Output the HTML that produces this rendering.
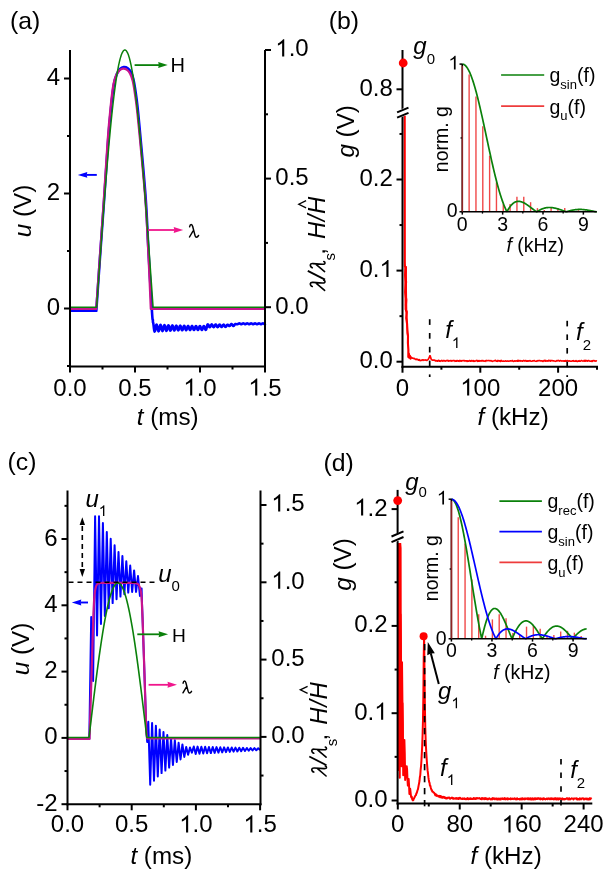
<!DOCTYPE html>
<html><head><meta charset="utf-8"><style>html,body{margin:0;padding:0;background:#fff;}svg{display:block;will-change:transform;}</style></head>
<body><svg width="613" height="877" viewBox="0 0 613 877" font-family="Liberation Sans, sans-serif">
<rect width="613" height="877" fill="#fff"/>
<text x="9.9" y="29.3" font-family="Liberation Sans" font-size="24.8" fill="#000">(a)</text>
<path d="M70,310.8 L96.3,310.8  C96.95,301.44 98.87,273.23 100.18,254.64 C101.49,236.05 102.82,218.62 104.16,199.27 C105.51,179.93 107.1,154.04 108.26,138.57 C109.43,123.1 110.21,115.64 111.17,106.46 C112.13,97.28 113.08,88.98 114.05,83.51 C115.01,78.04 115.99,76.06 116.98,73.64 C117.97,71.23 118.87,70.12 119.99,69.01 C121.11,67.9 122.4,67.13 123.7,67 C125,66.86 126.62,67.4 127.8,68.21 C128.98,69.01 129.86,70.03 130.78,71.83 C131.71,73.63 132.6,75.94 133.36,78.98 C134.12,82.01 134.64,85.47 135.32,90.05 C136.01,94.63 136.6,98.37 137.47,106.46 C138.34,114.55 139.18,123.1 140.56,138.57 C141.95,154.04 144.46,180.77 145.76,199.27 C147.07,217.78 147.36,230.82 148.4,249.61 C149.44,268.39 151.25,300.27 152,312 C152.75,323.73 152.75,318.67 152.9,320 L152.9,322 L153.24,322.91 L153.58,325.3 L153.92,328.25 L154.26,330.64 L154.6,331.55 L154.93,331.09 L155.26,329.81 L155.58,328.07 L155.91,326.33 L156.24,325.06 L156.57,324.6 L156.9,325.04 L157.23,326.26 L157.56,327.93 L157.88,329.6 L158.21,330.82 L158.54,331.27 L158.87,330.84 L159.2,329.67 L159.52,328.06 L159.85,326.46 L160.18,325.29 L160.51,324.86 L160.84,325.27 L161.17,326.4 L161.5,327.94 L161.82,329.48 L162.15,330.61 L162.48,331.02 L162.81,330.63 L163.14,329.54 L163.46,328.05 L163.79,326.57 L164.12,325.48 L164.45,325.08 L164.78,325.47 L165.11,326.52 L165.44,327.95 L165.76,329.38 L166.09,330.43 L166.42,330.82 L166.75,330.45 L167.08,329.43 L167.4,328.05 L167.73,326.66 L168.06,325.65 L168.39,325.28 L168.72,325.63 L169.05,326.62 L169.38,327.96 L169.7,329.3 L170.03,330.28 L170.36,330.64 L170.69,330.29 L171.02,329.34 L171.34,328.04 L171.67,326.74 L172,325.79 L172.33,325.44 L172.66,325.78 L172.99,326.7 L173.31,327.96 L173.64,329.23 L173.97,330.15 L174.3,330.49 L174.63,330.16 L174.96,329.26 L175.28,328.03 L175.61,326.81 L175.94,325.91 L176.27,325.58 L176.6,325.9 L176.93,326.77 L177.25,327.97 L177.58,329.16 L177.91,330.04 L178.24,330.36 L178.57,330.05 L178.9,329.19 L179.22,328.03 L179.55,326.86 L179.88,326.01 L180.21,325.7 L180.54,326 L180.87,326.84 L181.19,327.97 L181.52,329.11 L181.85,329.94 L182.18,330.25 L182.51,329.95 L182.84,329.14 L183.17,328.02 L183.49,326.91 L183.82,326.1 L184.15,325.8 L184.48,326.09 L184.81,326.89 L185.13,327.98 L185.46,329.07 L185.79,329.86 L186.12,330.15 L186.45,329.87 L186.78,329.09 L187.11,328.02 L187.43,326.95 L187.76,326.17 L188.09,325.89 L188.42,326.17 L188.75,326.93 L189.07,327.98 L189.4,329.03 L189.73,329.79 L190.06,330.07 L190.39,329.8 L190.72,329.05 L191.05,328.02 L191.37,326.99 L191.7,326.24 L192.03,325.96 L192.36,326.23 L192.69,326.97 L193.01,327.98 L193.34,328.99 L193.67,329.73 L194,330 L194.33,329.74 L194.66,329.01 L194.99,328.02 L195.31,327.02 L195.64,326.29 L195.97,326.03 L196.3,326.29 L196.63,327.01 L196.95,327.99 L197.28,328.97 L197.61,329.68 L197.94,329.94 L198.27,329.69 L198.6,328.98 L198.93,328.01 L199.25,327.05 L199.58,326.34 L199.91,326.08 L200.24,326.34 L200.57,327.03 L200.89,327.99 L201.22,328.94 L201.55,329.64 L201.88,329.89 L202.21,329.64 L202.54,328.95 L202.87,328.01 L203.19,327.07 L203.52,326.38 L203.85,326.13 L204.18,326.38 L204.51,327.06 L204.83,327.99 L205.16,328.92 L205.49,329.6 L205.82,329.85 L206.15,329.48 L206.48,328.47 L206.81,327.09 L207.13,325.71 L207.46,324.71 L207.79,324.34 L208.12,324.53 L208.45,325.06 L208.77,325.78 L209.1,326.5 L209.43,327.03 L209.76,327.22 L210.09,327.04 L210.42,326.52 L210.75,325.82 L211.07,325.12 L211.4,324.6 L211.73,324.41 L212.06,324.6 L212.39,325.1 L212.71,325.78 L213.04,326.46 L213.37,326.96 L213.7,327.15 L214.03,326.97 L214.36,326.48 L214.69,325.82 L215.01,325.16 L215.34,324.67 L215.67,324.49 L216,324.67 L216.33,325.14 L216.65,325.78 L216.98,326.42 L217.31,326.89 L217.64,327.07 L217.97,326.9 L218.3,326.44 L218.62,325.82 L218.95,325.2 L219.28,324.74 L219.61,324.57 L219.94,324.73 L220.27,325.18 L220.59,325.78 L220.92,326.38 L221.25,326.83 L221.58,326.99 L221.91,326.83 L222.24,326.4 L222.56,325.82 L222.89,325.24 L223.22,324.81 L223.55,324.65 L223.88,324.8 L224.21,325.22 L224.53,325.78 L224.86,326.34 L225.19,326.76 L225.52,326.91 L225.85,326.76 L226.18,326.36 L226.5,325.82 L226.83,325.27 L227.16,324.88 L227.49,324.73 L227.82,324.82 L228.15,325.06 L228.47,325.38 L228.8,325.71 L229.13,325.94 L229.46,326.03 L229.79,325.9 L230.12,325.53 L230.44,325.02 L230.77,324.51 L231.1,324.14 L231.43,324.01 L231.76,324.14 L232.09,324.49 L232.41,324.98 L232.74,325.47 L233.07,325.82 L233.4,325.95 L233.73,325.83 L234.06,325.49 L234.38,325.02 L234.71,324.55 L235.04,324.21 L235.37,324.09 L235.7,324.1 L236.03,324.13 L236.35,324.17 L236.68,324.21 L237.01,324.24 L237.34,324.25 L237.67,324.19 L238,324.03 L238.32,323.8 L238.65,323.58 L238.98,323.41 L239.31,323.35 L239.64,323.41 L239.97,323.57 L240.29,323.8 L240.62,324.02 L240.95,324.19 L241.28,324.25 L241.61,324.19 L241.94,324.03 L242.26,323.8 L242.59,323.58 L242.92,323.41 L243.25,323.35 L243.58,323.41 L243.91,323.57 L244.24,323.8 L244.56,324.02 L244.89,324.19 L245.22,324.25 L245.55,324.19 L245.88,324.03 L246.2,323.8 L246.53,323.58 L246.86,323.41 L247.19,323.35 L247.52,323.41 L247.85,323.57 L248.18,323.8 L248.5,324.02 L248.83,324.19 L249.16,324.25 L249.49,324.19 L249.82,324.03 L250.14,323.8 L250.47,323.58 L250.8,323.41 L251.13,323.35 L251.46,323.41 L251.79,323.57 L252.12,323.8 L252.44,324.02 L252.77,324.19 L253.1,324.25 L253.43,324.19 L253.76,324.03 L254.08,323.8 L254.41,323.58 L254.74,323.41 L255.07,323.35 L255.4,323.41 L255.73,323.57 L256.05,323.8 L256.38,324.02 L256.71,324.19 L257.04,324.25 L257.37,324.19 L257.7,324.03 L258.02,323.8 L258.35,323.58 L258.68,323.41 L259.01,323.35 L259.34,323.41 L259.67,323.57 L260,323.8 L260.32,324.02 L260.65,324.19 L260.98,324.25 L261.31,324.19 L261.64,324.03 L261.97,323.8 L262.29,323.58 L262.62,323.41 L262.95,323.35 L263.28,323.41 L263.61,323.57 L263.93,323.8 L264.26,324.02 L264.59,324.19 L264.92,324.25 L264.96,324.03 L265,323.8" fill="none" stroke="#0000ff" stroke-width="2.6" stroke-linejoin="round" />
<path d="M70,308.9 L96.2,308.9  C96.83,299.92 98.73,273.15 100,255 C101.27,236.85 102.52,219.22 103.8,200 C105.08,180.78 106.58,155.07 107.7,139.7 C108.82,124.33 109.57,116.92 110.5,107.8 C111.43,98.68 112.35,90.43 113.3,85 C114.25,79.57 115.22,77.6 116.2,75.2 C117.18,72.8 118.08,71.7 119.2,70.6 C120.32,69.5 121.6,68.73 122.9,68.6 C124.2,68.47 125.82,69 127,69.8 C128.18,70.6 129.07,71.62 130,73.4 C130.93,75.18 131.83,77.48 132.6,80.5 C133.37,83.52 133.9,86.95 134.6,91.5 C135.3,96.05 135.9,99.77 136.8,107.8 C137.7,115.83 138.57,124.33 140,139.7 C141.43,155.07 144.03,181.62 145.4,200 C146.77,218.38 147.3,231.85 148.2,250 C149.1,268.15 150.37,299.08 150.8,308.9 L265,308.9" fill="none" stroke="#c8148c" stroke-width="2.2" stroke-linejoin="round" />
<polyline points="70,307.2 96.65,307.2 96.93,303.16 97.21,299.12 97.5,295.08 97.78,291.05 98.06,287.02 98.34,283 98.62,278.98 98.91,274.96 99.19,270.96 99.47,266.97 99.75,262.98 100.04,259.01 100.32,255.04 100.6,251.09 100.88,247.16 101.16,243.24 101.45,239.33 101.73,235.44 102.01,231.57 102.29,227.72 102.57,223.89 102.86,220.08 103.14,216.29 103.42,212.52 103.7,208.77 103.98,205.05 104.27,201.36 104.55,197.69 104.83,194.05 105.11,190.43 105.4,186.85 105.68,183.29 105.96,179.77 106.24,176.27 106.52,172.81 106.81,169.39 107.09,165.99 107.37,162.63 107.65,159.31 107.93,156.02 108.22,152.77 108.5,149.56 108.78,146.39 109.06,143.25 109.34,140.16 109.63,137.11 109.91,134.1 110.19,131.13 110.47,128.21 110.75,125.33 111.04,122.5 111.32,119.71 111.6,116.97 111.88,114.27 112.17,111.62 112.45,109.02 112.73,106.47 113.01,103.97 113.29,101.52 113.58,99.12 113.86,96.77 114.14,94.47 114.42,92.23 114.7,90.04 114.99,87.9 115.27,85.82 115.55,83.79 115.83,81.81 116.11,79.9 116.4,78.03 116.68,76.23 116.96,74.48 117.24,72.79 117.53,71.15 117.81,69.58 118.09,68.06 118.37,66.6 118.65,65.21 118.94,63.87 119.22,62.59 119.5,61.37 119.78,60.21 120.06,59.12 120.35,58.08 120.63,57.11 120.91,56.19 121.19,55.34 121.47,54.56 121.76,53.83 122.04,53.17 122.32,52.57 122.6,52.03 122.89,51.55 123.17,51.14 123.45,50.79 123.73,50.51 124.01,50.29 124.3,50.13 124.58,50.03 124.86,50 125.14,50.03 125.42,50.13 125.71,50.29 125.99,50.51 126.27,50.79 126.55,51.14 126.83,51.55 127.12,52.03 127.4,52.57 127.68,53.17 127.96,53.83 128.25,54.56 128.53,55.34 128.81,56.19 129.09,57.11 129.37,58.08 129.66,59.12 129.94,60.21 130.22,61.37 130.5,62.59 130.78,63.87 131.07,65.21 131.35,66.6 131.63,68.06 131.91,69.58 132.19,71.15 132.48,72.79 132.76,74.48 133.04,76.23 133.32,78.03 133.61,79.9 133.89,81.81 134.17,83.79 134.45,85.82 134.73,87.9 135.02,90.04 135.3,92.23 135.58,94.47 135.86,96.77 136.14,99.12 136.43,101.52 136.71,103.97 136.99,106.47 137.27,109.02 137.55,111.62 137.84,114.27 138.12,116.97 138.4,119.71 138.68,122.5 138.97,125.33 139.25,128.21 139.53,131.13 139.81,134.1 140.09,137.11 140.38,140.16 140.66,143.25 140.94,146.39 141.22,149.56 141.5,152.77 141.79,156.02 142.07,159.31 142.35,162.63 142.63,165.99 142.91,169.39 143.2,172.81 143.48,176.27 143.76,179.77 144.04,183.29 144.32,186.85 144.61,190.43 144.89,194.05 145.17,197.69 145.45,201.36 145.74,205.05 146.02,208.77 146.3,212.52 146.58,216.29 146.86,220.08 147.15,223.89 147.43,227.72 147.71,231.57 147.99,235.44 148.27,239.33 148.56,243.24 148.84,247.16 149.12,251.09 149.4,255.04 149.68,259.01 149.97,262.98 150.25,266.97 150.53,270.96 150.81,274.96 151.1,278.98 151.38,283 151.66,287.02 151.94,291.05 152.22,295.08 152.51,299.12 152.79,303.16 153.07,307.2 265,307.2" fill="none" stroke="#0a800a" stroke-width="1.5" stroke-linejoin="round" />
<line x1="134.6" y1="65.1" x2="159.2" y2="65.1" stroke="#0a800a" stroke-width="1.8" />
<polygon points="167.7,65.1 158.2,68.1 158.8,65.1 158.2,62.1" fill="#0a800a"/>
<text x="170.5" y="71.8" font-family="Liberation Sans" font-size="20" fill="#000">H</text>
<line x1="96.8" y1="174.9" x2="86.3" y2="174.9" stroke="#0000ff" stroke-width="1.9" />
<polygon points="77.8,174.9 87.3,172 86.7,174.9 87.3,177.8" fill="#0000ff"/>
<line x1="148" y1="230" x2="174.7" y2="230" stroke="#f0168c" stroke-width="1.8" />
<polygon points="183.2,230 173.7,233 174.3,230 173.7,227" fill="#f0168c"/>
<path d="M0.6,-10.7 Q1.0,-13.1 2.2,-13.1 Q3.2,-13.1 3.7,-11 L5.6,-3.6 Q6.3,-0.3 7.4,-0.3 Q8.7,-0.3 9.6,-2.1 M4.1,-6.6 L0.5,-0.5" transform="translate(189,237.5) scale(1.0)" fill="none" stroke="#000" stroke-width="1.45" stroke-linecap="round" stroke-linejoin="round"/>
<line x1="70" y1="50" x2="70" y2="367.5" stroke="#000" stroke-width="2.0" />
<line x1="265" y1="50" x2="265" y2="367.5" stroke="#000" stroke-width="2.0" />
<line x1="69" y1="366.5" x2="266" y2="366.5" stroke="#000" stroke-width="2.0" />
<line x1="70" y1="366.5" x2="70" y2="372.5" stroke="#000" stroke-width="2.0" />
<text x="70" y="395.6" font-family="Liberation Sans" font-size="24" text-anchor="middle" fill="#000">0.0</text>
<line x1="135" y1="366.5" x2="135" y2="372.5" stroke="#000" stroke-width="2.0" />
<text x="135" y="395.6" font-family="Liberation Sans" font-size="24" text-anchor="middle" fill="#000">0.5</text>
<line x1="200" y1="366.5" x2="200" y2="372.5" stroke="#000" stroke-width="2.0" />
<path d="M583,0 V1147 Q518,1085 412,1023 T223,930 V1104 Q381,1178 499,1283 T667,1466 H763 V0 Z" transform="translate(183.32,395.6) scale(0.01172,-0.01172)" fill="#000"/>
<text x="200" y="395.6" font-family="Liberation Sans" font-size="24" text-anchor="middle" fill="#000"> .0</text>
<line x1="265" y1="366.5" x2="265" y2="372.5" stroke="#000" stroke-width="2.0" />
<path d="M583,0 V1147 Q518,1085 412,1023 T223,930 V1104 Q381,1178 499,1283 T667,1466 H763 V0 Z" transform="translate(248.32,395.6) scale(0.01172,-0.01172)" fill="#000"/>
<text x="265" y="395.6" font-family="Liberation Sans" font-size="24" text-anchor="middle" fill="#000"> .5</text>
<line x1="102.5" y1="366.5" x2="102.5" y2="369.5" stroke="#000" stroke-width="2.0" />
<line x1="167.5" y1="366.5" x2="167.5" y2="369.5" stroke="#000" stroke-width="2.0" />
<line x1="232.5" y1="366.5" x2="232.5" y2="369.5" stroke="#000" stroke-width="2.0" />
<line x1="64" y1="308.5" x2="70" y2="308.5" stroke="#000" stroke-width="2.0" />
<text x="60.1" y="315" font-family="Liberation Sans" font-size="24" text-anchor="end" fill="#000">0</text>
<line x1="64" y1="193.5" x2="70" y2="193.5" stroke="#000" stroke-width="2.0" />
<text x="60.1" y="200" font-family="Liberation Sans" font-size="24" text-anchor="end" fill="#000">2</text>
<line x1="64" y1="78.5" x2="70" y2="78.5" stroke="#000" stroke-width="2.0" />
<text x="60.1" y="85" font-family="Liberation Sans" font-size="24" text-anchor="end" fill="#000">4</text>
<line x1="67" y1="366" x2="70" y2="366" stroke="#000" stroke-width="2.0" />
<line x1="67" y1="251" x2="70" y2="251" stroke="#000" stroke-width="2.0" />
<line x1="67" y1="136" x2="70" y2="136" stroke="#000" stroke-width="2.0" />
<line x1="265" y1="307.2" x2="271" y2="307.2" stroke="#000" stroke-width="2.0" />
<text x="275.3" y="313.6" font-family="Liberation Sans" font-size="24" fill="#000">0.0</text>
<line x1="265" y1="178.6" x2="271" y2="178.6" stroke="#000" stroke-width="2.0" />
<text x="275.3" y="185" font-family="Liberation Sans" font-size="24" fill="#000">0.5</text>
<line x1="265" y1="50" x2="271" y2="50" stroke="#000" stroke-width="2.0" />
<path d="M583,0 V1147 Q518,1085 412,1023 T223,930 V1104 Q381,1178 499,1283 T667,1466 H763 V0 Z" transform="translate(275.3,56.4) scale(0.01172,-0.01172)" fill="#000"/>
<text x="275.3" y="56.4" font-family="Liberation Sans" font-size="24" fill="#000"> .0</text>
<line x1="265" y1="242.9" x2="268" y2="242.9" stroke="#000" stroke-width="2.0" />
<line x1="265" y1="114.3" x2="268" y2="114.3" stroke="#000" stroke-width="2.0" />
<text x="136.8" y="424.6" font-family="Liberation Sans" font-size="24.2"><tspan font-style="italic">t</tspan> (ms)</text>
<text transform="translate(30.8,237.2) rotate(-90)" font-family="Liberation Sans" font-size="24.2"><tspan font-style="italic">u</tspan> (V)</text>
<g transform="translate(325,291) rotate(-90)"><path d="M4.5,-12.7 Q5.2,-14.8 7.4,-14.7 Q8.8,-14.4 8.6,-12 L8.0,-2.5 Q7.9,0 9.2,0 Q10.3,0 10.7,-1.2 M7.9,-9 L0.6,-0.4" transform="translate(0.0,0)" fill="none" stroke="#000" stroke-width="1.6" stroke-linecap="round" stroke-linejoin="round"/><path d="M4.5,-12.7 Q5.2,-14.8 7.4,-14.7 Q8.8,-14.4 8.6,-12 L8.0,-2.5 Q7.9,0 9.2,0 Q10.3,0 10.7,-1.2 M7.9,-9 L0.6,-0.4" transform="translate(18.8,0)" fill="none" stroke="#000" stroke-width="1.6" stroke-linecap="round" stroke-linejoin="round"/><line x1="11.4" y1="0" x2="20.1" y2="-17.2" stroke="#000" stroke-width="1.8"/><text x="30.4" y="10" font-family="Liberation Sans" font-size="15">s</text><text x="36.2" y="0" font-family="Liberation Sans" font-size="24">,</text><text x="51.9" y="0" font-family="Liberation Sans" font-size="24" font-style="italic" letter-spacing="0.6">H/H</text><polyline points="83.2,-18.9 86.75,-26.2 90.3,-18.9" fill="none" stroke="#000" stroke-width="1.3"/></g>
<text x="7.5" y="470.2" font-family="Liberation Sans" font-size="24.8" fill="#000">(c)</text>
<polyline points="67.5,739 89.3,739 91.2,617 93.1,681 95.1,516.2 97.05,635.5 99,516.2 100.95,624 102.9,523 104.85,616.1 106.8,531.9 108.75,608.3 110.7,538.7 112.65,603.1 114.6,545.2 116.55,599.2 118.5,552 120.45,596.6 122.4,556 124.35,594.2 126.3,561.2 128.25,592.6 130.2,565.6 132.15,592 134.1,570.4 136.05,592 138,576 139.95,595.9 141.6,588.5 141.9,600 142.7,622 144,660 145.3,700 146.3,730 147.2,742 148.3,721.8 150.2,784.7 152.09,723.1 153.99,780.8 155.88,725.7 157.78,776.5 159.67,729.5 161.57,773.1 163.46,732.1 165.36,770.6 167.25,735.1 169.15,767.6 171.04,738.5 172.94,765 174.83,740.2 176.73,762 178.62,742.8 180.52,759.4 182.41,744.5 184.31,756.9 186.2,747 188.1,754.7 189.99,747.5 191.89,752.6 193.78,746.52 195.68,754.05 197.57,746.62 199.47,753.81 201.36,746.72 203.26,753.58 205.15,746.83 207.05,753.34 208.94,746.93 210.84,753.1 212.73,747.03 214.63,752.86 216.52,747.13 218.42,752.63 220.31,747.23 222.21,752.39 224.1,747.34 226,752.15 227.89,747.44 229.79,751.91 231.68,747.54 233.58,751.68 235.47,747.64 237.37,751.44 239.26,747.74 241.16,751.2 243.05,747.84 244.95,750.96 246.84,747.95 248.74,750.72 250.63,748.05 252.53,750.49 254.42,748.15 256.32,750.25 258.21,748.25 260.11,750.01" fill="none" stroke="#0000ff" stroke-width="2.0" stroke-linejoin="round" />
<path d="M67.5,739 L89.5,739  C89.68,733.33 90.18,718.17 90.6,705 C91.02,691.83 91.53,675 92,660 C92.47,645 92.98,625.83 93.4,615 C93.82,604.17 94.07,599.75 94.5,595 C94.93,590.25 95.42,588.4 96,586.5 C96.58,584.6 97.25,584.18 98,583.6 C98.75,583.02 99.5,583.12 100.5,583 C101.5,582.88 103.42,582.92 104,582.9 L134,582.9  C134.42,582.98 135.7,583.05 136.5,583.4 C137.3,583.75 138.12,583.9 138.8,585 C139.48,586.1 140.13,587.83 140.6,590 C141.07,592.17 141.27,593 141.6,598 C141.93,603 142.2,609.67 142.6,620 C143,630.33 143.55,646.67 144,660 C144.45,673.33 144.92,688.33 145.3,700 C145.68,711.67 145.98,723.58 146.3,730 C146.62,736.42 147.05,737.08 147.2,738.5 L260.5,738.5" fill="none" stroke="#c8148c" stroke-width="2.2" stroke-linejoin="round" />
<polyline points="67.5,737.5 89.01,737.5 89.3,735.07 89.59,732.64 89.87,730.22 90.16,727.79 90.45,725.37 90.74,722.95 91.03,720.54 91.32,718.12 91.61,715.72 91.9,713.32 92.19,710.92 92.48,708.53 92.77,706.15 93.06,703.78 93.35,701.41 93.63,699.05 93.92,696.71 94.21,694.37 94.5,692.04 94.79,689.73 95.08,687.42 95.37,685.13 95.66,682.85 95.95,680.59 96.24,678.34 96.53,676.1 96.82,673.88 97.11,671.67 97.39,669.49 97.68,667.31 97.97,665.16 98.26,663.02 98.55,660.9 98.84,658.8 99.13,656.72 99.42,654.66 99.71,652.62 100,650.6 100.29,648.6 100.58,646.63 100.87,644.68 101.15,642.74 101.44,640.84 101.73,638.95 102.02,637.1 102.31,635.26 102.6,633.45 102.89,631.67 103.18,629.91 103.47,628.18 103.76,626.48 104.05,624.8 104.34,623.15 104.62,621.53 104.91,619.94 105.2,618.38 105.49,616.85 105.78,615.34 106.07,613.87 106.36,612.43 106.65,611.01 106.94,609.63 107.23,608.28 107.52,606.97 107.81,605.68 108.1,604.43 108.38,603.21 108.67,602.02 108.96,600.87 109.25,599.75 109.54,598.66 109.83,597.61 110.12,596.6 110.41,595.62 110.7,594.67 110.99,593.76 111.28,592.88 111.57,592.04 111.86,591.24 112.14,590.47 112.43,589.73 112.72,589.04 113.01,588.38 113.3,587.76 113.59,587.17 113.88,586.62 114.17,586.11 114.46,585.64 114.75,585.2 115.04,584.8 115.33,584.44 115.62,584.12 115.9,583.83 116.19,583.59 116.48,583.38 116.77,583.21 117.06,583.07 117.35,582.98 117.64,582.92 117.93,582.9 118.22,582.92 118.51,582.98 118.8,583.07 119.09,583.21 119.38,583.38 119.66,583.59 119.95,583.83 120.24,584.12 120.53,584.44 120.82,584.8 121.11,585.2 121.4,585.64 121.69,586.11 121.98,586.62 122.27,587.17 122.56,587.76 122.85,588.38 123.14,589.04 123.42,589.73 123.71,590.47 124,591.24 124.29,592.04 124.58,592.88 124.87,593.76 125.16,594.67 125.45,595.62 125.74,596.6 126.03,597.61 126.32,598.66 126.61,599.75 126.89,600.87 127.18,602.02 127.47,603.21 127.76,604.43 128.05,605.68 128.34,606.97 128.63,608.28 128.92,609.63 129.21,611.01 129.5,612.43 129.79,613.87 130.08,615.34 130.37,616.85 130.65,618.38 130.94,619.94 131.23,621.53 131.52,623.15 131.81,624.8 132.1,626.48 132.39,628.18 132.68,629.91 132.97,631.67 133.26,633.45 133.55,635.26 133.84,637.1 134.13,638.95 134.41,640.84 134.7,642.74 134.99,644.68 135.28,646.63 135.57,648.6 135.86,650.6 136.15,652.62 136.44,654.66 136.73,656.72 137.02,658.8 137.31,660.9 137.6,663.02 137.89,665.16 138.17,667.31 138.46,669.49 138.75,671.67 139.04,673.88 139.33,676.1 139.62,678.34 139.91,680.59 140.2,682.85 140.49,685.13 140.78,687.42 141.07,689.73 141.36,692.04 141.65,694.37 141.93,696.71 142.22,699.05 142.51,701.41 142.8,703.78 143.09,706.15 143.38,708.53 143.67,710.92 143.96,713.32 144.25,715.72 144.54,718.12 144.83,720.54 145.12,722.95 145.41,725.37 145.69,727.79 145.98,730.22 146.27,732.64 146.56,735.07 146.85,737.5 260.1,737.5" fill="none" stroke="#0a800a" stroke-width="1.6" stroke-linejoin="round" />
<line x1="68.5" y1="582.2" x2="156" y2="582.2" stroke="#000" stroke-width="1.6" stroke-dasharray="5,4"/>
<line x1="82.3" y1="526" x2="82.3" y2="569" stroke="#000" stroke-width="1.6" stroke-dasharray="5,4"/>
<polygon points="82.3,517.2 79.6,525 85,525" fill="#000"/>
<polygon points="82.3,576.9 79.6,569 85,569" fill="#000"/>
<path d="M583,0 V1147 Q518,1085 412,1023 T223,930 V1104 Q381,1178 499,1283 T667,1466 H763 V0 Z" transform="translate(98.75,515.9) scale(0.00732,-0.00732)" fill="#000"/>
<text x="85.4" y="506.5" font-family="Liberation Sans" font-size="24"><tspan font-style="italic">u</tspan><tspan font-size="15" dy="9.4"> </tspan></text>
<text x="158.2" y="581.8" font-family="Liberation Sans" font-size="24"><tspan font-style="italic">u</tspan><tspan font-size="15" dy="9.4">0</tspan></text>
<line x1="137.3" y1="634.3" x2="159.6" y2="634.3" stroke="#0a800a" stroke-width="1.8" />
<polygon points="168.1,634.3 158.6,637.3 159.2,634.3 158.6,631.3" fill="#0a800a"/>
<text x="172" y="641.7" font-family="Liberation Sans" font-size="19.2" fill="#000">H</text>
<line x1="88" y1="602.5" x2="80.3" y2="602.5" stroke="#0000ff" stroke-width="1.9" />
<polygon points="71.8,602.5 81.3,599.6 80.7,602.5 81.3,605.4" fill="#0000ff"/>
<line x1="148.6" y1="684.8" x2="168.5" y2="684.8" stroke="#f0168c" stroke-width="1.8" />
<polygon points="177,684.8 167.5,687.8 168.1,684.8 167.5,681.8" fill="#f0168c"/>
<path d="M0.6,-10.7 Q1.0,-13.1 2.2,-13.1 Q3.2,-13.1 3.7,-11 L5.6,-3.6 Q6.3,-0.3 7.4,-0.3 Q8.7,-0.3 9.6,-2.1 M4.1,-6.6 L0.5,-0.5" transform="translate(182.5,693.3) scale(0.94)" fill="none" stroke="#000" stroke-width="1.54" stroke-linecap="round" stroke-linejoin="round"/>
<line x1="67.5" y1="490.5" x2="67.5" y2="805.3" stroke="#000" stroke-width="2.0" />
<line x1="260.5" y1="490.5" x2="260.5" y2="805.3" stroke="#000" stroke-width="2.0" />
<line x1="66.5" y1="804.3" x2="261.5" y2="804.3" stroke="#000" stroke-width="2.0" />
<line x1="67.5" y1="804.3" x2="67.5" y2="810.3" stroke="#000" stroke-width="2.0" />
<text x="67.5" y="832.4" font-family="Liberation Sans" font-size="24" text-anchor="middle" fill="#000">0.0</text>
<line x1="131.7" y1="804.3" x2="131.7" y2="810.3" stroke="#000" stroke-width="2.0" />
<text x="131.7" y="832.4" font-family="Liberation Sans" font-size="24" text-anchor="middle" fill="#000">0.5</text>
<line x1="195.9" y1="804.3" x2="195.9" y2="810.3" stroke="#000" stroke-width="2.0" />
<path d="M583,0 V1147 Q518,1085 412,1023 T223,930 V1104 Q381,1178 499,1283 T667,1466 H763 V0 Z" transform="translate(179.22,832.4) scale(0.01172,-0.01172)" fill="#000"/>
<text x="195.9" y="832.4" font-family="Liberation Sans" font-size="24" text-anchor="middle" fill="#000"> .0</text>
<line x1="260.1" y1="804.3" x2="260.1" y2="810.3" stroke="#000" stroke-width="2.0" />
<path d="M583,0 V1147 Q518,1085 412,1023 T223,930 V1104 Q381,1178 499,1283 T667,1466 H763 V0 Z" transform="translate(243.42,832.4) scale(0.01172,-0.01172)" fill="#000"/>
<text x="260.1" y="832.4" font-family="Liberation Sans" font-size="24" text-anchor="middle" fill="#000"> .5</text>
<line x1="99.6" y1="804.3" x2="99.6" y2="807.3" stroke="#000" stroke-width="2.0" />
<line x1="163.8" y1="804.3" x2="163.8" y2="807.3" stroke="#000" stroke-width="2.0" />
<line x1="228" y1="804.3" x2="228" y2="807.3" stroke="#000" stroke-width="2.0" />
<line x1="61.5" y1="804.2" x2="67.5" y2="804.2" stroke="#000" stroke-width="2.0" />
<text x="57.7" y="810.7" font-family="Liberation Sans" font-size="24" text-anchor="end" fill="#000">-2</text>
<line x1="61.5" y1="737.9" x2="67.5" y2="737.9" stroke="#000" stroke-width="2.0" />
<text x="57.7" y="744.4" font-family="Liberation Sans" font-size="24" text-anchor="end" fill="#000">0</text>
<line x1="61.5" y1="671.6" x2="67.5" y2="671.6" stroke="#000" stroke-width="2.0" />
<text x="57.7" y="678.1" font-family="Liberation Sans" font-size="24" text-anchor="end" fill="#000">2</text>
<line x1="61.5" y1="605.3" x2="67.5" y2="605.3" stroke="#000" stroke-width="2.0" />
<text x="57.7" y="611.8" font-family="Liberation Sans" font-size="24" text-anchor="end" fill="#000">4</text>
<line x1="61.5" y1="539" x2="67.5" y2="539" stroke="#000" stroke-width="2.0" />
<text x="57.7" y="545.5" font-family="Liberation Sans" font-size="24" text-anchor="end" fill="#000">6</text>
<line x1="64.5" y1="771.05" x2="67.5" y2="771.05" stroke="#000" stroke-width="2.0" />
<line x1="64.5" y1="704.75" x2="67.5" y2="704.75" stroke="#000" stroke-width="2.0" />
<line x1="64.5" y1="638.45" x2="67.5" y2="638.45" stroke="#000" stroke-width="2.0" />
<line x1="64.5" y1="572.15" x2="67.5" y2="572.15" stroke="#000" stroke-width="2.0" />
<line x1="64.5" y1="505.85" x2="67.5" y2="505.85" stroke="#000" stroke-width="2.0" />
<line x1="260.5" y1="736.9" x2="266.5" y2="736.9" stroke="#000" stroke-width="2.0" />
<text x="271.3" y="743.3" font-family="Liberation Sans" font-size="24" fill="#000">0.0</text>
<line x1="260.5" y1="659.6" x2="266.5" y2="659.6" stroke="#000" stroke-width="2.0" />
<text x="271.3" y="666" font-family="Liberation Sans" font-size="24" fill="#000">0.5</text>
<line x1="260.5" y1="582.3" x2="266.5" y2="582.3" stroke="#000" stroke-width="2.0" />
<path d="M583,0 V1147 Q518,1085 412,1023 T223,930 V1104 Q381,1178 499,1283 T667,1466 H763 V0 Z" transform="translate(271.3,588.7) scale(0.01172,-0.01172)" fill="#000"/>
<text x="271.3" y="588.7" font-family="Liberation Sans" font-size="24" fill="#000"> .0</text>
<line x1="260.5" y1="505" x2="266.5" y2="505" stroke="#000" stroke-width="2.0" />
<path d="M583,0 V1147 Q518,1085 412,1023 T223,930 V1104 Q381,1178 499,1283 T667,1466 H763 V0 Z" transform="translate(271.3,511.4) scale(0.01172,-0.01172)" fill="#000"/>
<text x="271.3" y="511.4" font-family="Liberation Sans" font-size="24" fill="#000"> .5</text>
<line x1="260.5" y1="775.55" x2="263.5" y2="775.55" stroke="#000" stroke-width="2.0" />
<line x1="260.5" y1="698.25" x2="263.5" y2="698.25" stroke="#000" stroke-width="2.0" />
<line x1="260.5" y1="620.95" x2="263.5" y2="620.95" stroke="#000" stroke-width="2.0" />
<line x1="260.5" y1="543.65" x2="263.5" y2="543.65" stroke="#000" stroke-width="2.0" />
<text x="130.4" y="864.3" font-family="Liberation Sans" font-size="24.2"><tspan font-style="italic">t</tspan> (ms)</text>
<text transform="translate(28.6,675.2) rotate(-90)" font-family="Liberation Sans" font-size="24.2"><tspan font-style="italic">u</tspan> (V)</text>
<g transform="translate(326.5,776.6) rotate(-90)"><path d="M4.5,-12.7 Q5.2,-14.8 7.4,-14.7 Q8.8,-14.4 8.6,-12 L8.0,-2.5 Q7.9,0 9.2,0 Q10.3,0 10.7,-1.2 M7.9,-9 L0.6,-0.4" transform="translate(0.0,0)" fill="none" stroke="#000" stroke-width="1.6" stroke-linecap="round" stroke-linejoin="round"/><path d="M4.5,-12.7 Q5.2,-14.8 7.4,-14.7 Q8.8,-14.4 8.6,-12 L8.0,-2.5 Q7.9,0 9.2,0 Q10.3,0 10.7,-1.2 M7.9,-9 L0.6,-0.4" transform="translate(18.8,0)" fill="none" stroke="#000" stroke-width="1.6" stroke-linecap="round" stroke-linejoin="round"/><line x1="11.4" y1="0" x2="20.1" y2="-17.2" stroke="#000" stroke-width="1.8"/><text x="30.4" y="10" font-family="Liberation Sans" font-size="15">s</text><text x="36.2" y="0" font-family="Liberation Sans" font-size="24">,</text><text x="51.9" y="0" font-family="Liberation Sans" font-size="24" font-style="italic" letter-spacing="0.6">H/H</text><polyline points="83.2,-18.9 86.75,-26.2 90.3,-18.9" fill="none" stroke="#000" stroke-width="1.3"/></g>
<text x="328.8" y="29.4" font-family="Liberation Sans" font-size="24.8" fill="#000">(b)</text>
<polyline points="404.7,115.5 404.75,200 404.8,262 404.9,266.5 405.9,267.2 405.1,275 406.1,282 405.2,292 406.3,300 405.6,309 406.8,312 406.2,318 407.1,324 407.4,333 408,336 407.9,343 408.4,350 408.3,357 408.9,353.5 409.3,357.8 409.9,355.8 410.5,358.6 411,357.08" fill="none" stroke="#ff0000" stroke-width="2.1" stroke-linejoin="round" />
<polyline points="410.5,358.6 411,357.08 411.55,357.43 412.1,358.13 412.65,357.97 413.2,358.28 413.75,358.61 414.3,358.43 414.85,358.96 415.4,359.26 415.95,359.58 416.5,359.03 417.05,359.37 417.6,359.28 418.15,360.11 418.7,360.09 419.25,359.52 419.8,360.54 420.35,360.59 420.9,360.33 421.45,360.35 422,359.93 422.55,359.82 423.1,360.36 423.65,359.91 424.2,360.05 424.75,360.1 425.3,359.87 425.85,360.26 426.4,360.16 426.95,360.43 427.5,359.88 428.05,359.6 428.6,358.74 429.15,357.63 429.7,355.89 430.25,355.77 430.8,358.07 431.35,359.34 431.9,359.91 432.45,360.19 433,360.05 433.55,360.12 434.1,360.28 434.65,360.14 435.2,360.89 435.75,360.56 436.3,361.04 436.85,360.61 437.4,361.2 437.95,361.11 438.5,360.27 439.05,360.5 439.6,361.21 440.15,360.77 440.7,361.29 441.25,360.72 441.8,360.4 442.35,360.96 442.9,361.11 443.45,360.61 444,360.43 444.55,360.68 445.1,361.31 445.65,361.11 446.2,360.47 446.75,360.6 447.3,360.46 447.85,360.42 448.4,361.16 448.95,360.54 449.5,360.92 450.05,360.81 450.6,360.55 451.15,361.1 451.7,360.5 452.25,361.01 452.8,360.48 453.35,360.79 453.9,360.58 454.45,360.64 455,361.34 455.55,361.17 456.1,360.67 456.65,361.26 457.2,360.58 457.75,360.77 458.3,361.23 458.85,361.01 459.4,360.47 459.95,361.36 460.5,360.59 461.05,360.63 461.6,361.15 462.15,360.7 462.7,360.67 463.25,360.45 463.8,360.46 464.35,360.96 464.9,360.62 465.45,360.98 466,360.75 466.55,360.83 467.1,361.33 467.65,360.86 468.2,360.95 468.75,361.24 469.3,360.56 469.85,360.53 470.4,361.28 470.95,361.19 471.5,360.63 472.05,360.57 472.6,361.12 473.15,361.32 473.7,360.57 474.25,361.33 474.8,361.26 475.35,360.98 475.9,360.8 476.45,360.48 477,360.42 477.55,361.34 478.1,360.62 478.65,361.08 479.2,360.63 479.75,361.2 480.3,360.97 480.85,360.67 481.4,360.55 481.95,361.1 482.5,360.45 483.05,360.61 483.6,360.94 484.15,361.23 484.7,360.99 485.25,360.66 485.8,361.3 486.35,360.58 486.9,360.39 487.45,360.65 488,360.82 488.55,360.44 489.1,360.55 489.65,360.75 490.2,360.95 490.75,360.51 491.3,360.74 491.85,361.27 492.4,361.36 492.95,361.04 493.5,361.07 494.05,360.96 494.6,360.52 495.15,360.41 495.7,360.4 496.25,361.29 496.8,361.08 497.35,361.34 497.9,360.4 498.45,361.01 499,360.86 499.55,361.11 500.1,360.7 500.65,361.38 501.2,360.45 501.75,360.93 502.3,361.12 502.85,361.28 503.4,361.12 503.95,361.08 504.5,361.17 505.05,361.29 505.6,360.73 506.15,361.06 506.7,361.28 507.25,361.25 507.8,360.8 508.35,361.17 508.9,361.24 509.45,360.95 510,361 510.55,360.76 511.1,360.96 511.65,360.99 512.2,360.46 512.75,361.02 513.3,361.37 513.85,361.26 514.4,361.11 514.95,360.77 515.5,361.11 516.05,360.96 516.6,360.82 517.15,361.22 517.7,360.46 518.25,361.13 518.8,360.41 519.35,360.98 519.9,360.86 520.45,360.61 521,361.08 521.55,360.88 522.1,360.99 522.65,361.3 523.2,360.64 523.75,360.39 524.3,360.68 524.85,361.06 525.4,360.58 525.95,360.55 526.5,361.29 527.05,361.04 527.6,360.82 528.15,361.27 528.7,360.71 529.25,361.05 529.8,360.58 530.35,360.81 530.9,361.19 531.45,361.29 532,361.26 532.55,360.76 533.1,360.96 533.65,360.7 534.2,360.52 534.75,360.88 535.3,361.22 535.85,361.23 536.4,361.09 536.95,361.33 537.5,360.66 538.05,360.55 538.6,360.83 539.15,360.65 539.7,360.59 540.25,360.79 540.8,361.01 541.35,360.87 541.9,360.69 542.45,361.22 543,361.36 543.55,360.83 544.1,360.45 544.65,360.41 545.2,361.25 545.75,360.42 546.3,361.09 546.85,360.95 547.4,360.69 547.95,361.17 548.5,360.4 549.05,360.52 549.6,360.83 550.15,360.4 550.7,361.21 551.25,360.62 551.8,360.52 552.35,360.43 552.9,361.01 553.45,360.83 554,361.01 554.55,361.03 555.1,361.19 555.65,361.34 556.2,361.06 556.75,360.58 557.3,360.85 557.85,360.56 558.4,360.39 558.95,360.85 559.5,361.09 560.05,360.56 560.6,360.65 561.15,360.73 561.7,361.08 562.25,360.9 562.8,360.99 563.35,361.14 563.9,360.77 564.45,361.17 565,361.29 565.55,360.47 566.1,361.31 566.65,361.1 567.2,360.51 567.75,360.83 568.3,361.01 568.85,361.29 569.4,360.76 569.95,360.95 570.5,361.26 571.05,361.18 571.6,361.32 572.15,360.84 572.7,361.03 573.25,360.58 573.8,361.1 574.35,361.2 574.9,361.02 575.45,361.1 576,360.59 576.55,361.28 577.1,361.36 577.65,361.36 578.2,360.92 578.75,361.17 579.3,360.7 579.85,361.29 580.4,361.24 580.95,360.73 581.5,360.46 582.05,360.82 582.6,360.93 583.15,361.15 583.7,360.87 584.25,360.41 584.8,361.19 585.35,360.44 585.9,361.18 586.45,360.55 587,360.71 587.55,361.17 588.1,360.52 588.65,360.53 589.2,360.9 589.75,361.1 590.3,361.22 590.85,361.07 591.4,361.33 591.95,360.87 592.5,361.33 593.05,360.47 593.6,360.6 594.15,360.91 594.7,360.67 595.25,361.11 595.8,361.02 596.35,360.9 596.9,361.22" fill="none" stroke="#ff0000" stroke-width="1.6" stroke-linejoin="round" />
<polygon points="404.3,262 405.6,265.5 406.9,267 407,290 407.3,311 408.2,330 408.9,336 409,356 408,357 407.6,338 406.9,331 405.6,313 404.6,305 404.3,280" fill="#ff0000"/>
<line x1="402.5" y1="50" x2="402.5" y2="109.5" stroke="#000" stroke-width="2.0" />
<line x1="402.5" y1="115.8" x2="402.5" y2="367.7" stroke="#000" stroke-width="2.0" />
<line x1="401.5" y1="366.7" x2="598" y2="366.7" stroke="#000" stroke-width="2.0" />
<polygon points="396,111.5 410,105.6 410,113.6 396,119.5" fill="#fff"/>
<line x1="397.1" y1="112.4" x2="408.5" y2="107.6" stroke="#000" stroke-width="2.0" />
<line x1="397.1" y1="117.7" x2="408.5" y2="112.9" stroke="#000" stroke-width="2.0" />
<line x1="396.5" y1="361.7" x2="402.5" y2="361.7" stroke="#000" stroke-width="2.0" />
<text x="392.9" y="368.2" font-family="Liberation Sans" font-size="24" text-anchor="end" fill="#000">0.0</text>
<line x1="396.5" y1="270.6" x2="402.5" y2="270.6" stroke="#000" stroke-width="2.0" />
<path d="M583,0 V1147 Q518,1085 412,1023 T223,930 V1104 Q381,1178 499,1283 T667,1466 H763 V0 Z" transform="translate(379.55,277.1) scale(0.01172,-0.01172)" fill="#000"/>
<text x="392.9" y="277.1" font-family="Liberation Sans" font-size="24" text-anchor="end" fill="#000">0. </text>
<line x1="396.5" y1="179.5" x2="402.5" y2="179.5" stroke="#000" stroke-width="2.0" />
<text x="392.9" y="186" font-family="Liberation Sans" font-size="24" text-anchor="end" fill="#000">0.2</text>
<line x1="396.5" y1="89.3" x2="402.5" y2="89.3" stroke="#000" stroke-width="2.0" />
<text x="392.9" y="95.8" font-family="Liberation Sans" font-size="24" text-anchor="end" fill="#000">0.8</text>
<line x1="399.5" y1="316.15" x2="402.5" y2="316.15" stroke="#000" stroke-width="2.0" />
<line x1="399.5" y1="225.05" x2="402.5" y2="225.05" stroke="#000" stroke-width="2.0" />
<line x1="399.5" y1="133.95" x2="402.5" y2="133.95" stroke="#000" stroke-width="2.0" />
<line x1="402.5" y1="366.7" x2="402.5" y2="372.7" stroke="#000" stroke-width="2.0" />
<text x="402.5" y="395.6" font-family="Liberation Sans" font-size="24" text-anchor="middle" fill="#000">0</text>
<line x1="480.3" y1="366.7" x2="480.3" y2="372.7" stroke="#000" stroke-width="2.0" />
<path d="M583,0 V1147 Q518,1085 412,1023 T223,930 V1104 Q381,1178 499,1283 T667,1466 H763 V0 Z" transform="translate(460.28,395.6) scale(0.01172,-0.01172)" fill="#000"/>
<text x="480.3" y="395.6" font-family="Liberation Sans" font-size="24" text-anchor="middle" fill="#000"> 00</text>
<line x1="558.1" y1="366.7" x2="558.1" y2="372.7" stroke="#000" stroke-width="2.0" />
<text x="558.1" y="395.6" font-family="Liberation Sans" font-size="24" text-anchor="middle" fill="#000">200</text>
<line x1="441.4" y1="366.7" x2="441.4" y2="369.7" stroke="#000" stroke-width="2.0" />
<line x1="519.2" y1="366.7" x2="519.2" y2="369.7" stroke="#000" stroke-width="2.0" />
<line x1="597" y1="366.7" x2="597" y2="369.7" stroke="#000" stroke-width="2.0" />
<circle cx="403.2" cy="63" r="4.4" fill="#ff0000"/>
<text x="413.3" y="54.3" font-family="Liberation Sans" font-size="24"><tspan font-style="italic">g</tspan><tspan font-size="15" dy="9.3">0</tspan></text>
<line x1="429.7" y1="319.2" x2="429.7" y2="324.9" stroke="#000" stroke-width="1.7" />
<line x1="429.7" y1="333" x2="429.7" y2="338.7" stroke="#000" stroke-width="1.7" />
<line x1="429.7" y1="346.8" x2="429.7" y2="352.5" stroke="#000" stroke-width="1.7" />
<line x1="429.7" y1="360.6" x2="429.7" y2="366.3" stroke="#000" stroke-width="1.7" />
<line x1="429.7" y1="374.4" x2="429.7" y2="377" stroke="#000" stroke-width="1.7" />
<line x1="567.2" y1="320.8" x2="567.2" y2="326.4" stroke="#000" stroke-width="1.7" />
<line x1="567.2" y1="334.4" x2="567.2" y2="340" stroke="#000" stroke-width="1.7" />
<line x1="567.2" y1="348" x2="567.2" y2="353.6" stroke="#000" stroke-width="1.7" />
<line x1="567.2" y1="361.6" x2="567.2" y2="367.2" stroke="#000" stroke-width="1.7" />
<line x1="567.2" y1="375.2" x2="567.2" y2="377" stroke="#000" stroke-width="1.7" />
<path d="M583,0 V1147 Q518,1085 412,1023 T223,930 V1104 Q381,1178 499,1283 T667,1466 H763 V0 Z" transform="translate(451.87,348) scale(0.00732,-0.00732)" fill="#000"/>
<text x="445.2" y="338.2" font-family="Liberation Sans" font-size="24"><tspan font-style="italic">f</tspan><tspan font-size="15" dy="9.8"> </tspan></text>
<text x="576.1" y="339.9" font-family="Liberation Sans" font-size="24"><tspan font-style="italic">f</tspan><tspan font-size="15" dy="9.6">2</tspan></text>
<text x="477.5" y="425.0" font-family="Liberation Sans" font-size="24.2"><tspan font-style="italic">f</tspan> (kHz)</text>
<text transform="translate(354.3,157.6) rotate(-90)" font-family="Liberation Sans" font-size="24.2"><tspan font-style="italic">g</tspan> (V)</text>
<line x1="462.3" y1="211.8" x2="462.3" y2="64.1" stroke="#f04848" stroke-width="1.4" />
<line x1="469.13" y1="211.8" x2="469.13" y2="74.59" stroke="#f04848" stroke-width="1.4" />
<line x1="475.96" y1="211.8" x2="475.96" y2="96.45" stroke="#f04848" stroke-width="1.4" />
<line x1="482.79" y1="211.8" x2="482.79" y2="126.13" stroke="#f04848" stroke-width="1.4" />
<line x1="489.62" y1="211.8" x2="489.62" y2="155.67" stroke="#f04848" stroke-width="1.4" />
<line x1="496.45" y1="211.8" x2="496.45" y2="182.41" stroke="#f04848" stroke-width="1.4" />
<line x1="503.28" y1="211.8" x2="503.28" y2="203.97" stroke="#f04848" stroke-width="1.4" />
<line x1="510.11" y1="211.8" x2="510.11" y2="204.12" stroke="#f04848" stroke-width="1.4" />
<line x1="516.94" y1="211.8" x2="516.94" y2="196.73" stroke="#f04848" stroke-width="1.4" />
<line x1="523.77" y1="211.8" x2="523.77" y2="196.73" stroke="#f04848" stroke-width="1.4" />
<line x1="530.6" y1="211.8" x2="530.6" y2="202.2" stroke="#f04848" stroke-width="1.4" />
<line x1="537.43" y1="211.8" x2="537.43" y2="208.11" stroke="#f04848" stroke-width="1.4" />
<line x1="544.26" y1="211.8" x2="544.26" y2="210.03" stroke="#f04848" stroke-width="1.4" />
<line x1="551.09" y1="211.8" x2="551.09" y2="208.11" stroke="#f04848" stroke-width="1.4" />
<line x1="557.92" y1="211.8" x2="557.92" y2="208.11" stroke="#f04848" stroke-width="1.4" />
<line x1="564.75" y1="211.8" x2="564.75" y2="208.11" stroke="#f04848" stroke-width="1.4" />
<line x1="571.58" y1="211.8" x2="571.58" y2="210.18" stroke="#f04848" stroke-width="1.4" />
<line x1="578.41" y1="211.8" x2="578.41" y2="210.18" stroke="#f04848" stroke-width="1.4" />
<line x1="585.24" y1="211.8" x2="585.24" y2="210.47" stroke="#f04848" stroke-width="1.4" />
<line x1="592.07" y1="211.8" x2="592.07" y2="210.62" stroke="#f04848" stroke-width="1.4" />
<polyline points="462.3,64.1 462.75,64.13 463.2,64.23 463.65,64.38 464.09,64.6 464.54,64.88 464.99,65.23 465.44,65.63 465.89,66.1 466.34,66.62 466.78,67.21 467.23,67.86 467.68,68.56 468.13,69.33 468.58,70.15 469.03,71.03 469.47,71.97 469.92,72.96 470.37,74 470.82,75.1 471.27,76.25 471.72,77.46 472.16,78.71 472.61,80.01 473.06,81.37 473.51,82.76 473.96,84.21 474.41,85.69 474.85,87.22 475.3,88.8 475.75,90.41 476.2,92.06 476.65,93.75 477.1,95.47 477.54,97.23 477.99,99.02 478.44,100.84 478.89,102.7 479.34,104.58 479.79,106.48 480.23,108.41 480.68,110.37 481.13,112.34 481.58,114.34 482.03,116.35 482.48,118.38 482.92,120.42 483.37,122.48 483.82,124.55 484.27,126.62 484.72,128.71 485.17,130.8 485.61,132.9 486.06,135 486.51,137.1 486.96,139.2 487.41,141.3 487.86,143.39 488.3,145.48 488.75,147.56 489.2,149.64 489.65,151.7 490.1,153.76 490.55,155.8 490.99,157.83 491.44,159.84 491.89,161.83 492.34,163.81 492.79,165.76 493.24,167.7 493.68,169.61 494.13,171.5 494.58,173.36 495.03,175.2 495.48,177.02 495.93,178.8 496.37,180.56 496.82,182.28 497.27,183.98 497.72,185.64 498.17,187.27 498.62,188.87 499.06,190.43 499.51,191.96 499.96,193.45 500.41,194.91 500.86,196.33 501.31,197.72 501.75,199.06 502.2,200.37 502.65,201.64 503.1,202.87 503.55,204.06 504,205.22 504.44,206.33 504.89,207.41 505.34,208.44 505.79,209.44 506.24,210.39 506.69,211.31 507.13,211.42 507.58,210.58 508.03,209.78 508.48,209.02 508.93,208.31 509.38,207.62 509.82,206.98 510.27,206.38 510.72,205.81 511.17,205.28 511.62,204.78 512.07,204.33 512.51,203.9 512.96,203.52 513.41,203.16 513.86,202.84 514.31,202.56 514.75,202.3 515.2,202.08 515.65,201.89 516.1,201.73 516.55,201.59 517,201.49 517.45,201.42 517.89,201.37 518.34,201.34 518.79,201.35 519.24,201.37 519.69,201.42 520.13,201.5 520.58,201.59 521.03,201.71 521.48,201.84 521.93,201.99 522.38,202.17 522.83,202.35 523.27,202.56 523.72,202.78 524.17,203.01 524.62,203.26 525.07,203.52 525.51,203.79 525.96,204.07 526.41,204.36 526.86,204.66 527.31,204.97 527.76,205.29 528.21,205.61 528.65,205.93 529.1,206.26 529.55,206.6 530,206.93 530.45,207.27 530.89,207.61 531.34,207.95 531.79,208.29 532.24,208.63 532.69,208.97 533.14,209.3 533.59,209.63 534.03,209.96 534.48,210.28 534.93,210.6 535.38,210.92 535.83,211.22 536.27,211.53 536.72,211.78 537.17,211.49 537.62,211.21 538.07,210.94 538.52,210.68 538.97,210.43 539.41,210.18 539.86,209.95 540.31,209.72 540.76,209.51 541.21,209.3 541.65,209.11 542.1,208.92 542.55,208.75 543,208.59 543.45,208.44 543.9,208.3 544.35,208.17 544.79,208.05 545.24,207.95 545.69,207.85 546.14,207.77 546.59,207.69 547.03,207.63 547.48,207.58 547.93,207.54 548.38,207.51 548.83,207.49 549.28,207.48 549.73,207.48 550.17,207.49 550.62,207.51 551.07,207.54 551.52,207.58 551.97,207.62 552.41,207.68 552.86,207.74 553.31,207.81 553.76,207.89 554.21,207.98 554.66,208.07 555.11,208.17 555.55,208.28 556,208.39 556.45,208.51 556.9,208.63 557.35,208.76 557.79,208.89 558.24,209.03 558.69,209.17 559.14,209.31 559.59,209.46 560.04,209.61 560.49,209.76 560.93,209.91 561.38,210.06 561.83,210.22 562.28,210.37 562.73,210.53 563.17,210.69 563.62,210.84 564.07,211 564.52,211.15 564.97,211.31 565.42,211.46 565.87,211.61 566.31,211.76 566.76,211.7 567.21,211.56 567.66,211.42 568.11,211.28 568.56,211.15 569,211.02 569.45,210.89 569.9,210.77 570.35,210.66 570.8,210.55 571.25,210.44 571.69,210.34 572.14,210.24 572.59,210.15 573.04,210.06 573.49,209.98 573.94,209.9 574.38,209.83 574.83,209.77 575.28,209.71 575.73,209.65 576.18,209.6 576.62,209.56 577.07,209.53 577.52,209.49 577.97,209.47 578.42,209.45 578.87,209.44 579.32,209.43 579.76,209.42 580.21,209.43 580.66,209.43 581.11,209.45 581.56,209.47 582,209.49 582.45,209.52 582.9,209.55 583.35,209.59 583.8,209.63 584.25,209.67 584.69,209.72 585.14,209.78 585.59,209.83 586.04,209.9 586.49,209.96 586.94,210.03 587.38,210.1 587.83,210.17 588.28,210.25 588.73,210.33 589.18,210.41 589.63,210.49 590.08,210.58 590.52,210.66 590.97,210.75 591.42,210.84 591.87,210.93 592.32,211.02 592.76,211.11 593.21,211.2 593.66,211.29 594.11,211.38 594.56,211.47 595.01,211.56 595.46,211.65 595.9,211.74 596.35,211.77 596.8,211.69" fill="none" stroke="#0a800a" stroke-width="1.7" stroke-linejoin="round" />
<line x1="462.3" y1="64.1" x2="462.3" y2="212.6" stroke="#000" stroke-width="1.5" />
<line x1="459.5" y1="211.8" x2="596.8" y2="211.8" stroke="#000" stroke-width="1.5" />
<line x1="459.5" y1="64.1" x2="462.3" y2="64.1" stroke="#000" stroke-width="1.5" />
<line x1="460.5" y1="137.95" x2="462.3" y2="137.95" stroke="#000" stroke-width="1.3" />
<line x1="462.5" y1="211.8" x2="462.5" y2="66.1" stroke="#c03030" stroke-width="1.2" opacity="0.75"/>
<line x1="462.3" y1="211.8" x2="462.3" y2="214.6" stroke="#000" stroke-width="1.5" />
<text x="462.3" y="231.4" font-family="Liberation Sans" font-size="19.5" text-anchor="middle" fill="#000">0</text>
<line x1="502.65" y1="211.8" x2="502.65" y2="214.6" stroke="#000" stroke-width="1.5" />
<text x="502.65" y="231.4" font-family="Liberation Sans" font-size="19.5" text-anchor="middle" fill="#000">3</text>
<line x1="543" y1="211.8" x2="543" y2="214.6" stroke="#000" stroke-width="1.5" />
<text x="543" y="231.4" font-family="Liberation Sans" font-size="19.5" text-anchor="middle" fill="#000">6</text>
<line x1="583.35" y1="211.8" x2="583.35" y2="214.6" stroke="#000" stroke-width="1.5" />
<text x="583.35" y="231.4" font-family="Liberation Sans" font-size="19.5" text-anchor="middle" fill="#000">9</text>
<line x1="482.48" y1="211.8" x2="482.48" y2="213.6" stroke="#000" stroke-width="1.3" />
<line x1="522.83" y1="211.8" x2="522.83" y2="213.6" stroke="#000" stroke-width="1.3" />
<line x1="563.17" y1="211.8" x2="563.17" y2="213.6" stroke="#000" stroke-width="1.3" />
<text x="457.5" y="217.4" font-family="Liberation Sans" font-size="19.5" text-anchor="end" fill="#000">0</text>
<path d="M583,0 V1147 Q518,1085 412,1023 T223,930 V1104 Q381,1178 499,1283 T667,1466 H763 V0 Z" transform="translate(448.36,69.6) scale(0.00952,-0.00952)" fill="#000"/>
<text x="459.2" y="69.6" font-family="Liberation Sans" font-size="19.5" text-anchor="end" fill="#000"> </text>
<text transform="translate(448.4,172.2) rotate(-90)" font-family="Liberation Sans" font-size="19.5">norm. g</text>
<text x="506.5" y="252.3" font-family="Liberation Sans" font-size="19.5"><tspan font-style="italic">f</tspan> (kHz)</text>
<line x1="501.1" y1="75" x2="544.2" y2="75" stroke="#0a800a" stroke-width="1.7" />
<line x1="501.1" y1="106.2" x2="544.2" y2="106.2" stroke="#ee3c3c" stroke-width="1.7" />
<text x="549.5" y="82.4" font-family="Liberation Sans" font-size="19.5">g<tspan font-size="13" dy="6.5">sin</tspan><tspan dy="-6.5">(f)</tspan></text>
<text x="549.5" y="113.6" font-family="Liberation Sans" font-size="19.5">g<tspan font-size="13" dy="6.5">u</tspan><tspan dy="-6.5">(f)</tspan></text>
<text x="323.4" y="471.4" font-family="Liberation Sans" font-size="24.8" fill="#000">(d)</text>
<polygon points="397.6,543 401.2,543 401.6,548 401.8,661.5 403,661.5 403.4,700 403.8,749 401.5,760 399.3,771 397.6,771" fill="#ff0000"/>
<clipPath id="cd"><rect x="390" y="543" width="220" height="270"/></clipPath>
<polyline points="397.8,-255.66 398.19,-118.17 398.57,79.44 398.96,353.24 399.35,614.92 399.74,777.85 400.12,653.01 400.51,614.54 400.9,644.78 401.28,756.34 401.67,766.2 402.06,708.06 402.45,703.27 402.83,724.09 403.22,775.21 403.61,772.08 403.99,744.89 404.38,739.89 404.77,753.71 405.15,779.96 405.54,774.46 405.93,777.75 406.32,774.39 406.7,766.15 407.09,769.64 407.48,779.64 407.86,785.62 408.25,780 408.64,778.92 409.03,784.73 409.41,794.05 409.8,790.56 410.19,788.82 410.57,792.46 410.96,796.15 411.35,797.48 411.74,796.6 412.12,798.88 412.51,799.96 412.9,800.45 413.28,800.24 413.67,798.86 414.06,798.37 414.45,797.47 414.83,796.77 415.22,795.93 415.61,795.47 415.99,795.03 416.38,793.24 416.77,793.14 417.16,791.5 417.54,790.16 417.93,789.41 418.32,787.27 418.7,785.15 419.09,783.21 419.48,781.03 419.86,777.22 420.25,775.12 420.64,769.83 421.03,766.2 421.41,760.83 421.8,753.11 422.19,746.18 422.57,735.3 422.96,720.93 423.35,695.86 423.74,655.87 424.12,636.01 424.51,674.46 424.9,707.07 425.28,727.16 425.67,739.72 426.06,748.75 426.45,755.08 426.83,761 427.22,766.17 427.61,770.68 427.99,773.25 428.38,777.13 428.77,779.72 429.16,781.97 429.54,782.66 429.93,785.53 430.32,785.71 430.7,787.25 431.09,788.67 431.48,790.01 431.86,790 432.25,791.53 432.64,791.63 433.03,791.86 433.41,792.37 433.8,792.62 434.19,792.89 434.57,793.35 434.96,794.44 435.35,795.17 435.74,794.27 436.12,794.36 436.51,795.9 436.9,795.48 437.28,795.49 437.67,795.43 438.06,796.09 438.45,796.57 438.83,796.19 439.22,796.27 439.61,795.88 439.99,797.2 440.38,796.06 440.77,796.81 441.16,797.38 441.54,796.48 441.93,797.4 442.32,797.78 442.7,797.4 443.09,797.69 443.48,796.8 443.86,797.32 444.25,796.98 444.64,798 445.03,797.28 445.41,797.55 445.8,798.36 446.19,798.2 446.57,798.42 446.96,797.72 447.35,797.81 447.74,798.18 448.12,797.86 448.51,797.63 448.9,797.82 449.28,797.49 449.67,797.84 450.06,798.72 450.45,798.71 450.83,798.27 451.22,798.11 451.61,797.91 451.99,797.58 452.38,797.86 452.77,798.59 453.16,798.73 453.54,798.04 453.93,798.65 454.32,798.65 454.7,798.56 455.09,798.53 455.48,798.68 455.87,798.14 456.25,798.63 456.64,798.05 457.03,798.35 457.41,798.76 457.8,798.67 458.19,798.12 458.57,799.04 458.96,798.64 459.35,798.56 459.74,797.77 460.12,798.53 460.51,798.12 460.9,798.72 461.28,798.44 461.67,798.94 462.06,798.72 462.45,798.93 462.83,798.31 463.22,798.74 463.61,798.87 463.99,799.01 464.38,798.35 464.77,799.04 465.16,799.09 465.54,798.84 465.93,799.25 466.32,799.23 466.7,798.62 467.09,798.64 467.48,798.14 467.87,799.08 468.25,799.23 468.64,798.59 469.03,798.9 469.41,798.94 469.8,798.96 470.19,798.18 470.57,799.04 470.96,798.77 471.35,798.89 471.74,798.55 472.12,798.84 472.51,799.05 472.9,798.87 473.28,798.99 473.67,798.02 474.06,798.21 474.45,798.61 474.83,798.9 475.22,798.3 475.61,798.96 475.99,798.89 476.38,798.07 476.77,798.67 477.16,798.33 477.54,798.09 477.93,798.21 478.32,798.47 478.7,798.28 479.09,798.3 479.48,798.08 479.87,798.69 480.25,798.57 480.64,798.9 481.03,798.87 481.41,798.38 481.8,799.31 482.19,798.05 482.57,798.62 482.96,798.44 483.35,798.63 483.74,798.22 484.12,799.22 484.51,798.59 484.9,798.11 485.28,798.93 485.67,798.2 486.06,798.83 486.45,798.55 486.83,798.89 487.22,799.42 487.61,799.22 487.99,798.67 488.38,799.22 488.77,798.98 489.16,798.6 489.54,798.29 489.93,798.92 490.32,798.88 490.7,799.43 491.09,799.45 491.48,798.95 491.87,798.59 492.25,799.35 492.64,798.1 493.03,798.25 493.41,798.89 493.8,798.96 494.19,798.3 494.58,798.99 494.96,799.36 495.35,798.64 495.74,798.71 496.12,798.43 496.51,798.52 496.9,799.48 497.28,798.65 497.67,799.46 498.06,799.4 498.45,798.95 498.83,798.48 499.22,799.49 499.61,798.82 499.99,798.7 500.38,798.57 500.77,799.5 501.16,798.81 501.54,798.53 501.93,798.8 502.32,798.3 502.7,799 503.09,798.75 503.48,798.54 503.87,799.23 504.25,799.29 504.64,798.15 505.03,798.88 505.41,798.52 505.8,799.45 506.19,799.23 506.58,798.48 506.96,798.51 507.35,798.36 507.74,799.53 508.12,798.55 508.51,798.99 508.9,798.81 509.28,799.05 509.67,798.99 510.06,799.19 510.45,798.31 510.83,799.21 511.22,798.57 511.61,798.9 511.99,798.62 512.38,798.57 512.77,798.89 513.16,798.8 513.54,798.66 513.93,799.2 514.32,798.98 514.7,798.21 515.09,798.51 515.48,798.79 515.87,799.44 516.25,799.4 516.64,798.92 517.03,798.18 517.41,799.25 517.8,798.76 518.19,798.97 518.58,799.15 518.96,799.05 519.35,798.84 519.74,799.44 520.12,798.7 520.51,798.71 520.9,799.36 521.28,798.44 521.67,798.58 522.06,799.33 522.45,798.26 522.83,799.34 523.22,799.14 523.61,798.77 523.99,798.57 524.38,799.26 524.77,799.44 525.16,798.37 525.54,798.84 525.93,798.94 526.32,798.87 526.7,798.63 527.09,798.39 527.48,798.99 527.87,799.31 528.25,798.27 528.64,798.49 529.03,799.32 529.41,799.28 529.8,799.1 530.19,798.21 530.58,799.19 530.96,799.55 531.35,799.57 531.74,799.16 532.12,798.24 532.51,799.36 532.9,798.48 533.29,799.08 533.67,799.51 534.06,799.18 534.45,798.37 534.83,798.59 535.22,799.46 535.61,798.39 535.99,799.03 536.38,798.76 536.77,798.41 537.16,799.05 537.54,798.24 537.93,798.33 538.32,798.71 538.7,798.28 539.09,798.26 539.48,798.99 539.87,799.22 540.25,799.41 540.64,798.37 541.03,798.79 541.41,798.62 541.8,799.02 542.19,798.87 542.58,799.5 542.96,798.71 543.35,798.26 543.74,799.16 544.12,798.4 544.51,799.07 544.9,798.9 545.29,799.46 545.67,798.96 546.06,799.06 546.45,798.56 546.83,798.96 547.22,798.54 547.61,799.24 547.99,798.91 548.38,798.38 548.77,798.52 549.16,798.71 549.54,799.22 549.93,798.44 550.32,799.19 550.7,799.11 551.09,798.31 551.48,799.13 551.87,798.32 552.25,798.37 552.64,799.02 553.03,798.53 553.41,799.42 553.8,798.87 554.19,798.65 554.58,799.31 554.96,798.23 555.35,799.21 555.74,798.27 556.12,798.4 556.51,799.53 556.9,799.15 557.29,798.51 557.67,798.36 558.06,799.56 558.45,799.13 558.83,799.34 559.22,798.39 559.61,799.07 559.99,798.69 560.38,798.52 560.77,798.66 561.16,799.06 561.54,798.68 561.93,798.74 562.32,798.39 562.7,799.36 563.09,799.1 563.48,799.32 563.87,798.8 564.25,799.39 564.64,798.92 565.03,799.03 565.41,799 565.8,799.23 566.19,798.75 566.58,798.33 566.96,798.25 567.35,798.48 567.74,798.25 568.12,799.44 568.51,798.87 568.9,799.26 569.29,798.2 569.67,798.86 570.06,799.45 570.45,799.07 570.83,798.8 571.22,798.85 571.61,798.34 572,798.42 572.38,798.42 572.77,798.73 573.16,798.74 573.54,799.43 573.93,798.41 574.32,798.56 574.7,798.59 575.09,798.43 575.48,798.6 575.87,798.53 576.25,798.88 576.64,798.25 577.03,799.5 577.41,798.72 577.8,799.52 578.19,799.17 578.58,799.15 578.96,798.86 579.35,799.53 579.74,798.37 580.12,799.14 580.51,798.61 580.9,799.15 581.29,799.22 581.67,798.43 582.06,798.49 582.45,798.24 582.83,798.53 583.22,798.31 583.61,798.77 584,799.57 584.38,798.71 584.77,798.64 585.16,798.86 585.54,798.6 585.93,799.23 586.32,799.21 586.7,798.43 587.09,798.54 587.48,799.15 587.87,799.52 588.25,799.11 588.64,798.81 589.03,799.57 589.41,798.22 589.8,798.29 590.19,799.3 590.58,798.78 590.96,798.27 591.35,798.97" fill="none" stroke="#ff0000" stroke-width="2.0" stroke-linejoin="round" clip-path="url(#cd)"/>
<line x1="397.6" y1="489.9" x2="397.6" y2="533.8" stroke="#000" stroke-width="2.0" />
<line x1="397.6" y1="540.6" x2="397.6" y2="804.5" stroke="#000" stroke-width="2.0" />
<line x1="396.6" y1="803.5" x2="592.3" y2="803.5" stroke="#000" stroke-width="2.0" />
<polygon points="390.5,536 405,530 405,538 390.5,544" fill="#fff"/>
<line x1="391.5" y1="536.5" x2="403.5" y2="531.3" stroke="#000" stroke-width="2.0" />
<line x1="391.5" y1="542.1" x2="403.5" y2="537" stroke="#000" stroke-width="2.0" />
<line x1="391.6" y1="800.5" x2="397.6" y2="800.5" stroke="#000" stroke-width="2.0" />
<text x="387.6" y="807" font-family="Liberation Sans" font-size="24" text-anchor="end" fill="#000">0.0</text>
<line x1="391.6" y1="713.2" x2="397.6" y2="713.2" stroke="#000" stroke-width="2.0" />
<path d="M583,0 V1147 Q518,1085 412,1023 T223,930 V1104 Q381,1178 499,1283 T667,1466 H763 V0 Z" transform="translate(374.25,719.7) scale(0.01172,-0.01172)" fill="#000"/>
<text x="387.6" y="719.7" font-family="Liberation Sans" font-size="24" text-anchor="end" fill="#000">0. </text>
<line x1="391.6" y1="625.9" x2="397.6" y2="625.9" stroke="#000" stroke-width="2.0" />
<text x="387.6" y="632.4" font-family="Liberation Sans" font-size="24" text-anchor="end" fill="#000">0.2</text>
<line x1="391.6" y1="509.1" x2="397.6" y2="509.1" stroke="#000" stroke-width="2.0" />
<path d="M583,0 V1147 Q518,1085 412,1023 T223,930 V1104 Q381,1178 499,1283 T667,1466 H763 V0 Z" transform="translate(354.24,515.6) scale(0.01172,-0.01172)" fill="#000"/>
<text x="387.6" y="515.6" font-family="Liberation Sans" font-size="24" text-anchor="end" fill="#000"> .2</text>
<line x1="394.6" y1="756.85" x2="397.6" y2="756.85" stroke="#000" stroke-width="2.0" />
<line x1="394.6" y1="669.55" x2="397.6" y2="669.55" stroke="#000" stroke-width="2.0" />
<line x1="394.6" y1="582.25" x2="397.6" y2="582.25" stroke="#000" stroke-width="2.0" />
<line x1="397.8" y1="803.5" x2="397.8" y2="809.5" stroke="#000" stroke-width="2.0" />
<text x="397.8" y="832.4" font-family="Liberation Sans" font-size="24" text-anchor="middle" fill="#000">0</text>
<line x1="459.74" y1="803.5" x2="459.74" y2="809.5" stroke="#000" stroke-width="2.0" />
<text x="459.74" y="832.4" font-family="Liberation Sans" font-size="24" text-anchor="middle" fill="#000">80</text>
<line x1="521.67" y1="803.5" x2="521.67" y2="809.5" stroke="#000" stroke-width="2.0" />
<path d="M583,0 V1147 Q518,1085 412,1023 T223,930 V1104 Q381,1178 499,1283 T667,1466 H763 V0 Z" transform="translate(501.65,832.4) scale(0.01172,-0.01172)" fill="#000"/>
<text x="521.67" y="832.4" font-family="Liberation Sans" font-size="24" text-anchor="middle" fill="#000"> 60</text>
<line x1="583.61" y1="803.5" x2="583.61" y2="809.5" stroke="#000" stroke-width="2.0" />
<text x="583.61" y="832.4" font-family="Liberation Sans" font-size="24" text-anchor="middle" fill="#000">240</text>
<line x1="428.77" y1="803.5" x2="428.77" y2="806.5" stroke="#000" stroke-width="2.0" />
<line x1="490.7" y1="803.5" x2="490.7" y2="806.5" stroke="#000" stroke-width="2.0" />
<line x1="552.64" y1="803.5" x2="552.64" y2="806.5" stroke="#000" stroke-width="2.0" />
<circle cx="397.7" cy="500.6" r="4.4" fill="#ff0000"/>
<circle cx="423.6" cy="636.2" r="4.0" fill="#ff0000"/>
<text x="405.2" y="490.2" font-family="Liberation Sans" font-size="24"><tspan font-style="italic">g</tspan><tspan font-size="15" dy="7.0">0</tspan></text>
<path d="M583,0 V1147 Q518,1085 412,1023 T223,930 V1104 Q381,1178 499,1283 T667,1466 H763 V0 Z" transform="translate(451.45,708.2) scale(0.00732,-0.00732)" fill="#000"/>
<text x="438.1" y="699.2" font-family="Liberation Sans" font-size="24"><tspan font-style="italic">g</tspan><tspan font-size="15" dy="9.0"> </tspan></text>
<line x1="438.8" y1="683.9" x2="430.79" y2="653.31" stroke="#000" stroke-width="2.0" />
<polygon points="427.8,641.9 434.82,653.29 430.84,653.51 427.27,655.27" fill="#000"/>
<line x1="424.6" y1="644" x2="424.6" y2="650.3" stroke="#000" stroke-width="1.7" />
<line x1="424.6" y1="656" x2="424.6" y2="662.3" stroke="#000" stroke-width="1.7" />
<line x1="424.6" y1="668" x2="424.6" y2="674.3" stroke="#000" stroke-width="1.7" />
<line x1="424.6" y1="680" x2="424.6" y2="686.3" stroke="#000" stroke-width="1.7" />
<line x1="424.6" y1="692" x2="424.6" y2="698.3" stroke="#000" stroke-width="1.7" />
<line x1="424.6" y1="704" x2="424.6" y2="710.3" stroke="#000" stroke-width="1.7" />
<line x1="424.6" y1="716" x2="424.6" y2="722.3" stroke="#000" stroke-width="1.7" />
<line x1="424.6" y1="728" x2="424.6" y2="734.3" stroke="#000" stroke-width="1.7" />
<line x1="424.6" y1="740" x2="424.6" y2="746.3" stroke="#000" stroke-width="1.7" />
<line x1="424.6" y1="752" x2="424.6" y2="758.3" stroke="#000" stroke-width="1.7" />
<line x1="424.6" y1="764" x2="424.6" y2="770.3" stroke="#000" stroke-width="1.7" />
<line x1="424.6" y1="776" x2="424.6" y2="782.3" stroke="#000" stroke-width="1.7" />
<line x1="424.6" y1="788" x2="424.6" y2="794.3" stroke="#000" stroke-width="1.7" />
<line x1="424.6" y1="800" x2="424.6" y2="806.3" stroke="#000" stroke-width="1.7" />
<line x1="561" y1="758.9" x2="561" y2="764.4" stroke="#000" stroke-width="1.7" />
<line x1="561" y1="772.6" x2="561" y2="778.1" stroke="#000" stroke-width="1.7" />
<line x1="561" y1="786.3" x2="561" y2="791.8" stroke="#000" stroke-width="1.7" />
<line x1="561" y1="800" x2="561" y2="805.5" stroke="#000" stroke-width="1.7" />
<path d="M583,0 V1147 Q518,1085 412,1023 T223,930 V1104 Q381,1178 499,1283 T667,1466 H763 V0 Z" transform="translate(446.77,784.9) scale(0.00732,-0.00732)" fill="#000"/>
<text x="440.1" y="775.5" font-family="Liberation Sans" font-size="24"><tspan font-style="italic">f</tspan><tspan font-size="15" dy="9.4"> </tspan></text>
<text x="570.2" y="778" font-family="Liberation Sans" font-size="24"><tspan font-style="italic">f</tspan><tspan font-size="15" dy="9.5">2</tspan></text>
<text x="470.5" y="864.0" font-family="Liberation Sans" font-size="24.2"><tspan font-style="italic">f</tspan> (kHz)</text>
<text transform="translate(350.7,590.7) rotate(-90)" font-family="Liberation Sans" font-size="24.2"><tspan font-style="italic">g</tspan> (V)</text>
<line x1="451.4" y1="638.8" x2="451.4" y2="499.2" stroke="#f04848" stroke-width="1.4" />
<line x1="458.23" y1="638.8" x2="458.23" y2="517.35" stroke="#f04848" stroke-width="1.4" />
<line x1="465.06" y1="638.8" x2="465.06" y2="543.45" stroke="#f04848" stroke-width="1.4" />
<line x1="471.89" y1="638.8" x2="471.89" y2="579.61" stroke="#f04848" stroke-width="1.4" />
<line x1="478.72" y1="638.8" x2="478.72" y2="614.23" stroke="#f04848" stroke-width="1.4" />
<line x1="485.55" y1="638.8" x2="485.55" y2="635.73" stroke="#f04848" stroke-width="1.4" />
<line x1="492.38" y1="638.8" x2="492.38" y2="619.4" stroke="#f04848" stroke-width="1.4" />
<line x1="499.21" y1="638.8" x2="499.21" y2="614.23" stroke="#f04848" stroke-width="1.4" />
<line x1="506.04" y1="638.8" x2="506.04" y2="618.14" stroke="#f04848" stroke-width="1.4" />
<line x1="512.87" y1="638.8" x2="512.87" y2="632.94" stroke="#f04848" stroke-width="1.4" />
<line x1="519.7" y1="638.8" x2="519.7" y2="634.19" stroke="#f04848" stroke-width="1.4" />
<line x1="526.53" y1="638.8" x2="526.53" y2="626.65" stroke="#f04848" stroke-width="1.4" />
<line x1="533.36" y1="638.8" x2="533.36" y2="625.96" stroke="#f04848" stroke-width="1.4" />
<line x1="540.19" y1="638.8" x2="540.19" y2="628.75" stroke="#f04848" stroke-width="1.4" />
<line x1="547.02" y1="638.8" x2="547.02" y2="635.45" stroke="#f04848" stroke-width="1.4" />
<line x1="553.85" y1="638.8" x2="553.85" y2="635.03" stroke="#f04848" stroke-width="1.4" />
<line x1="560.68" y1="638.8" x2="560.68" y2="631.54" stroke="#f04848" stroke-width="1.4" />
<line x1="567.51" y1="638.8" x2="567.51" y2="630.84" stroke="#f04848" stroke-width="1.4" />
<line x1="574.34" y1="638.8" x2="574.34" y2="632.66" stroke="#f04848" stroke-width="1.4" />
<line x1="581.17" y1="638.8" x2="581.17" y2="636.01" stroke="#f04848" stroke-width="1.4" />
<polyline points="451.4,499.2 451.85,499.25 452.3,499.4 452.75,499.66 453.2,500.01 453.65,500.47 454.1,501.02 454.55,501.67 455.01,502.43 455.46,503.27 455.91,504.22 456.36,505.26 456.81,506.39 457.26,507.62 457.71,508.94 458.16,510.34 458.61,511.83 459.06,513.41 459.51,515.07 459.96,516.81 460.41,518.63 460.86,520.53 461.31,522.5 461.77,524.54 462.22,526.65 462.67,528.83 463.12,531.07 463.57,533.37 464.02,535.72 464.47,538.13 464.92,540.6 465.37,543.11 465.82,545.67 466.27,548.26 466.72,550.9 467.17,553.57 467.62,556.28 468.07,559.01 468.53,561.77 468.98,564.56 469.43,567.36 469.88,570.17 470.33,573 470.78,575.84 471.23,578.68 471.68,581.52 472.13,584.36 472.58,587.2 473.03,590.03 473.48,592.85 473.93,595.65 474.38,598.44 474.83,601.2 475.29,603.95 475.74,606.66 476.19,609.34 476.64,612 477.09,614.61 477.54,617.19 477.99,619.73 478.44,622.22 478.89,624.67 479.34,627.07 479.79,629.41 480.24,631.71 480.69,633.95 481.14,636.13 481.59,638.25 482.05,637.29 482.5,635.29 482.95,633.36 483.4,631.49 483.85,629.69 484.3,627.96 484.75,626.3 485.2,624.71 485.65,623.2 486.1,621.75 486.55,620.38 487,619.09 487.45,617.86 487.9,616.72 488.35,615.65 488.81,614.65 489.26,613.73 489.71,612.89 490.16,612.12 490.61,611.43 491.06,610.81 491.51,610.27 491.96,609.8 492.41,609.4 492.86,609.08 493.31,608.82 493.76,608.64 494.21,608.52 494.66,608.48 495.11,608.49 495.57,608.58 496.02,608.73 496.47,608.94 496.92,609.21 497.37,609.54 497.82,609.92 498.27,610.36 498.72,610.85 499.17,611.4 499.62,611.99 500.07,612.63 500.52,613.32 500.97,614.05 501.42,614.81 501.87,615.62 502.33,616.46 502.78,617.34 503.23,618.25 503.68,619.18 504.13,620.14 504.58,621.13 505.03,622.14 505.48,623.17 505.93,624.21 506.38,625.27 506.83,626.34 507.28,627.42 507.73,628.51 508.18,629.6 508.63,630.69 509.09,631.79 509.54,632.88 509.99,633.97 510.44,635.06 510.89,636.13 511.34,637.2 511.79,638.25 512.24,638.31 512.69,637.29 513.14,636.29 513.59,635.3 514.04,634.34 514.49,633.4 514.94,632.49 515.39,631.6 515.85,630.74 516.3,629.92 516.75,629.12 517.2,628.35 517.65,627.62 518.1,626.92 518.55,626.25 519,625.62 519.45,625.03 519.9,624.48 520.35,623.96 520.8,623.48 521.25,623.05 521.7,622.65 522.15,622.29 522.61,621.97 523.06,621.7 523.51,621.46 523.96,621.26 524.41,621.11 524.86,620.99 525.31,620.92 525.76,620.88 526.21,620.89 526.66,620.93 527.11,621.01 527.56,621.13 528.01,621.28 528.46,621.47 528.91,621.7 529.37,621.96 529.82,622.26 530.27,622.58 530.72,622.94 531.17,623.33 531.62,623.75 532.07,624.2 532.52,624.67 532.97,625.17 533.42,625.69 533.87,626.23 534.32,626.8 534.77,627.39 535.22,627.99 535.67,628.61 536.13,629.25 536.58,629.9 537.03,630.57 537.48,631.24 537.93,631.92 538.38,632.62 538.83,633.31 539.28,634.02 539.73,634.72 540.18,635.43 540.63,636.14 541.08,636.85 541.53,637.55 541.98,638.25 542.43,638.66 542.89,637.97 543.34,637.29 543.79,636.62 544.24,635.97 544.69,635.32 545.14,634.69 545.59,634.08 546.04,633.48 546.49,632.89 546.94,632.33 547.39,631.79 547.84,631.26 548.29,630.76 548.74,630.28 549.19,629.82 549.65,629.38 550.1,628.97 550.55,628.59 551,628.23 551.45,627.9 551.9,627.59 552.35,627.31 552.8,627.06 553.25,626.84 553.7,626.64 554.15,626.47 554.6,626.33 555.05,626.22 555.5,626.14 555.95,626.08 556.41,626.05 556.86,626.05 557.31,626.08 557.76,626.14 558.21,626.22 558.66,626.33 559.11,626.47 559.56,626.63 560.01,626.82 560.46,627.03 560.91,627.26 561.36,627.52 561.81,627.8 562.26,628.1 562.71,628.42 563.17,628.77 563.62,629.13 564.07,629.51 564.52,629.91 564.97,630.32 565.42,630.75 565.87,631.19 566.32,631.64 566.77,632.11 567.22,632.59 567.67,633.08 568.12,633.58 568.57,634.08 569.02,634.59 569.47,635.11 569.93,635.63 570.38,636.15 570.83,636.67 571.28,637.2 571.73,637.73 572.18,638.25 572.63,638.77 573.08,638.31 573.53,637.8 573.98,637.29 574.43,636.8 574.88,636.3 575.33,635.82 575.78,635.35 576.23,634.89 576.69,634.44 577.14,634 577.59,633.58 578.04,633.17 578.49,632.78 578.94,632.4 579.39,632.04 579.84,631.69 580.29,631.37 580.74,631.06 581.19,630.77 581.64,630.5 582.09,630.25 582.54,630.02 582.99,629.81 583.45,629.63 583.9,629.46 584.35,629.31 584.8,629.19 585.25,629.09 585.7,629.01 586.15,628.95 586.6,628.92" fill="none" stroke="#0a800a" stroke-width="1.7" stroke-linejoin="round" />
<polyline points="451.4,499.2 451.85,499.23 452.3,499.32 452.75,499.47 453.2,499.68 453.65,499.95 454.1,500.28 454.55,500.67 455.01,501.11 455.46,501.62 455.91,502.18 456.36,502.8 456.81,503.47 457.26,504.21 457.71,504.99 458.16,505.84 458.61,506.73 459.06,507.68 459.51,508.68 459.96,509.73 460.41,510.84 460.86,511.99 461.31,513.19 461.77,514.43 462.22,515.73 462.67,517.06 463.12,518.44 463.57,519.87 464.02,521.33 464.47,522.83 464.92,524.37 465.37,525.95 465.82,527.57 466.27,529.21 466.72,530.89 467.17,532.6 467.62,534.34 468.07,536.11 468.53,537.91 468.98,539.73 469.43,541.57 469.88,543.43 470.33,545.32 470.78,547.22 471.23,549.14 471.68,551.08 472.13,553.03 472.58,554.99 473.03,556.96 473.48,558.94 473.93,560.92 474.38,562.91 474.83,564.91 475.29,566.91 475.74,568.91 476.19,570.91 476.64,572.9 477.09,574.89 477.54,576.88 477.99,578.86 478.44,580.83 478.89,582.79 479.34,584.74 479.79,586.67 480.24,588.59 480.69,590.5 481.14,592.39 481.59,594.26 482.05,596.11 482.5,597.95 482.95,599.76 483.4,601.54 483.85,603.31 484.3,605.04 484.75,606.75 485.2,608.44 485.65,610.1 486.1,611.72 486.55,613.32 487,614.89 487.45,616.42 487.9,617.92 488.35,619.39 488.81,620.83 489.26,622.23 489.71,623.6 490.16,624.93 490.61,626.23 491.06,627.49 491.51,628.71 491.96,629.9 492.41,631.05 492.86,632.16 493.31,633.23 493.76,634.27 494.21,635.27 494.66,636.23 495.11,637.15 495.57,638.04 496.02,638.72 496.47,637.91 496.92,637.14 497.37,636.4 497.82,635.71 498.27,635.05 498.72,634.43 499.17,633.84 499.62,633.29 500.07,632.77 500.52,632.29 500.97,631.85 501.42,631.44 501.87,631.06 502.33,630.72 502.78,630.41 503.23,630.12 503.68,629.88 504.13,629.66 504.58,629.47 505.03,629.31 505.48,629.18 505.93,629.07 506.38,629 506.83,628.95 507.28,628.92 507.73,628.92 508.18,628.94 508.63,628.98 509.09,629.05 509.54,629.14 509.99,629.24 510.44,629.37 510.89,629.51 511.34,629.67 511.79,629.85 512.24,630.05 512.69,630.25 513.14,630.47 513.59,630.71 514.04,630.96 514.49,631.21 514.94,631.48 515.39,631.76 515.85,632.04 516.3,632.33 516.75,632.63 517.2,632.94 517.65,633.25 518.1,633.56 518.55,633.88 519,634.2 519.45,634.52 519.9,634.84 520.35,635.17 520.8,635.49 521.25,635.81 521.7,636.13 522.15,636.45 522.61,636.77 523.06,637.08 523.51,637.39 523.96,637.69 524.41,637.99 524.86,638.28 525.31,638.57 525.76,638.75 526.21,638.48 526.66,638.22 527.11,637.96 527.56,637.71 528.01,637.47 528.46,637.24 528.91,637.02 529.37,636.8 529.82,636.6 530.27,636.41 530.72,636.23 531.17,636.05 531.62,635.89 532.07,635.74 532.52,635.6 532.97,635.46 533.42,635.34 533.87,635.23 534.32,635.14 534.77,635.05 535.22,634.97 535.67,634.9 536.13,634.85 536.58,634.8 537.03,634.76 537.48,634.74 537.93,634.72 538.38,634.71 538.83,634.72 539.28,634.73 539.73,634.75 540.18,634.78 540.63,634.82 541.08,634.87 541.53,634.92 541.98,634.99 542.43,635.06 542.89,635.13 543.34,635.22 543.79,635.31 544.24,635.41 544.69,635.51 545.14,635.62 545.59,635.73 546.04,635.85 546.49,635.98 546.94,636.1 547.39,636.23 547.84,636.37 548.29,636.51 548.74,636.65 549.19,636.79 549.65,636.93 550.1,637.08 550.55,637.23 551,637.37 551.45,637.52 551.9,637.67 552.35,637.82 552.8,637.97 553.25,638.12 553.7,638.26 554.15,638.41 554.6,638.55 555.05,638.69 555.5,638.77 555.95,638.63 556.41,638.5 556.86,638.37 557.31,638.24 557.76,638.11 558.21,637.99 558.66,637.88 559.11,637.77 559.56,637.66 560.01,637.55 560.46,637.45 560.91,637.36 561.36,637.27 561.81,637.19 562.26,637.11 562.71,637.03 563.17,636.96 563.62,636.9 564.07,636.84 564.52,636.79 564.97,636.74 565.42,636.7 565.87,636.66 566.32,636.63 566.77,636.6 567.22,636.58 567.67,636.57 568.12,636.56 568.57,636.55 569.02,636.56 569.47,636.56 569.93,636.57 570.38,636.59 570.83,636.61 571.28,636.63 571.73,636.66 572.18,636.7 572.63,636.74 573.08,636.78 573.53,636.83 573.98,636.88 574.43,636.93 574.88,636.99 575.33,637.05 575.78,637.11 576.23,637.18 576.69,637.25 577.14,637.32 577.59,637.4 578.04,637.47 578.49,637.55 578.94,637.63 579.39,637.72 579.84,637.8 580.29,637.88 580.74,637.97 581.19,638.05 581.64,638.14 582.09,638.23 582.54,638.31 582.99,638.4 583.45,638.49 583.9,638.57 584.35,638.66 584.8,638.74 585.25,638.78 585.7,638.69 586.15,638.61 586.6,638.53" fill="none" stroke="#0000ff" stroke-width="1.7" stroke-linejoin="round" />
<line x1="451.4" y1="499.2" x2="451.4" y2="639.6" stroke="#000" stroke-width="1.5" />
<line x1="448.6" y1="638.8" x2="586.8" y2="638.8" stroke="#000" stroke-width="1.5" />
<line x1="448.6" y1="499.2" x2="451.4" y2="499.2" stroke="#000" stroke-width="1.5" />
<line x1="449.6" y1="569" x2="451.4" y2="569" stroke="#000" stroke-width="1.3" />
<line x1="451.6" y1="638.8" x2="451.6" y2="501.2" stroke="#c03030" stroke-width="1.2" opacity="0.75"/>
<line x1="451.4" y1="638.8" x2="451.4" y2="641.6" stroke="#000" stroke-width="1.5" />
<text x="451.4" y="657.4" font-family="Liberation Sans" font-size="19.5" text-anchor="middle" fill="#000">0</text>
<line x1="491.96" y1="638.8" x2="491.96" y2="641.6" stroke="#000" stroke-width="1.5" />
<text x="491.96" y="657.4" font-family="Liberation Sans" font-size="19.5" text-anchor="middle" fill="#000">3</text>
<line x1="532.52" y1="638.8" x2="532.52" y2="641.6" stroke="#000" stroke-width="1.5" />
<text x="532.52" y="657.4" font-family="Liberation Sans" font-size="19.5" text-anchor="middle" fill="#000">6</text>
<line x1="573.08" y1="638.8" x2="573.08" y2="641.6" stroke="#000" stroke-width="1.5" />
<text x="573.08" y="657.4" font-family="Liberation Sans" font-size="19.5" text-anchor="middle" fill="#000">9</text>
<line x1="471.68" y1="638.8" x2="471.68" y2="640.6" stroke="#000" stroke-width="1.3" />
<line x1="512.24" y1="638.8" x2="512.24" y2="640.6" stroke="#000" stroke-width="1.3" />
<line x1="552.8" y1="638.8" x2="552.8" y2="640.6" stroke="#000" stroke-width="1.3" />
<text x="446.5" y="644.6" font-family="Liberation Sans" font-size="19.5" text-anchor="end" fill="#000">0</text>
<path d="M583,0 V1147 Q518,1085 412,1023 T223,930 V1104 Q381,1178 499,1283 T667,1466 H763 V0 Z" transform="translate(436.76,504.6) scale(0.00952,-0.00952)" fill="#000"/>
<text x="447.6" y="504.6" font-family="Liberation Sans" font-size="19.5" text-anchor="end" fill="#000"> </text>
<text transform="translate(438.2,601.2) rotate(-90)" font-family="Liberation Sans" font-size="19.5">norm. g</text>
<text x="493.2" y="679.2" font-family="Liberation Sans" font-size="19.5"><tspan font-style="italic">f</tspan> (kHz)</text>
<line x1="499.4" y1="501.2" x2="541.9" y2="501.2" stroke="#0a800a" stroke-width="1.7" />
<line x1="499.4" y1="531.7" x2="541.9" y2="531.7" stroke="#0000ff" stroke-width="1.7" />
<line x1="499.4" y1="562.4" x2="541.9" y2="562.4" stroke="#ee3c3c" stroke-width="1.7" />
<text x="547.5" y="508.4" font-family="Liberation Sans" font-size="19.5">g<tspan font-size="13" dy="6.5">rec</tspan><tspan dy="-6.5">(f)</tspan></text>
<text x="547.5" y="539.3" font-family="Liberation Sans" font-size="19.5">g<tspan font-size="13" dy="6.5">sin</tspan><tspan dy="-6.5">(f)</tspan></text>
<text x="547.5" y="570.0" font-family="Liberation Sans" font-size="19.5">g<tspan font-size="13" dy="6.5">u</tspan><tspan dy="-6.5">(f)</tspan></text>
</svg></body></html>
